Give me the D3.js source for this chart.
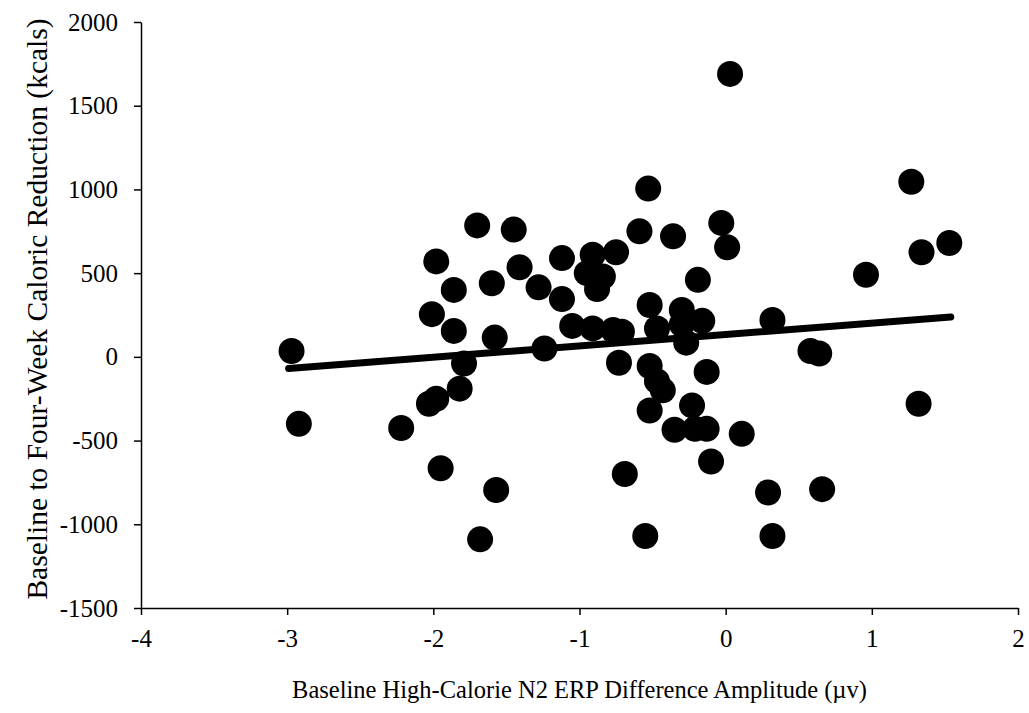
<!DOCTYPE html>
<meta charset="utf-8">
<script src="https://d3js.org/d3.v7.min.js"></script>
<style>
    body { margin: 0; background: white; }
    .axis text { font-family: "Liberation Serif", "Times New Roman", serif; font-size: 25px; fill: black; }
    .axis path, .axis line { stroke: black; stroke-width: 1.5; }
    .title { font-family: "Liberation Serif", "Times New Roman", serif; fill: black; }
</style>
<body>
<div id="chart"></div>
<script>
    // N2 amplitude (x) vs caloric reduction (y)
    var ampValues = [-2.97, -2.92, -2.22, -2.03, -1.98, -1.95, -1.98, -2.01, -1.86, -1.86,
        -1.79, -1.82, -1.68, -1.70, -1.60, -1.58, -1.57, -1.45, -1.41, -1.28,
        -1.24, -1.12, -1.12, -1.05, -0.95, -0.91, -0.84, -0.88, -0.91, -0.77,
        -0.71, -0.75, -0.59, -0.73, -0.53, -0.52, -0.52, -0.47, -0.47, -0.43,
        -0.52, -0.55, -0.69, -0.36, -0.35, -0.30, -0.30, -0.27, -0.23, -0.19,
        -0.16, -0.13, -0.21, -0.13, -0.10, -0.03, 0.01, 0.03, 0.11, 0.29,
        0.32, 0.32, 0.58, 0.64, 0.66, 0.96, 1.27, 1.32, 1.34, 1.53];
    var kcalValues = [35, -400, -425, -280, -250, -665, 570, 255, 400, 155,
        -40, -190, -1090, 785, 440, 115, -795, 760, 535, 415,
        50, 590, 345, 185, 500, 610, 480, 405, 170, 160,
        150, 625, 750, -35, 1005, 310, -55, 170, -145, -200,
        -320, -1070, -700, 720, -435, 280, 195, 85, -290, 460,
        215, -90, -430, -430, -625, 800, 655, 1690, -460, -810,
        220, -1070, 35, 20, -790, 490, 1046, -280, 625, 680];

    // fitted trend line, end points
    var trendX = [-2.99, 1.54];
    var trendY = [-70, 238];

    var xTicks = [-4, -3, -2, -1, 0, 1, 2];
    var yTicks = [-1500, -1000, -500, 0, 500, 1000, 1500, 2000];

    const width = 1029, height = 713;
    const plotLeft = 141, plotRight = 1018, plotTop = 22, plotBottom = 608;

    var svg = d3.select("#chart").append("svg")
        .attr("width", width)
        .attr("height", height);

    var x = d3.scaleLinear().domain([-4, 2]).range([plotLeft, plotRight]);
    var y = d3.scaleLinear().domain([-1500, 2000]).range([plotBottom, plotTop]);

    var plain = d => String(d);

    svg.append("g")
        .attr("class", "axis")
        .attr("transform", "translate(" + plotLeft + ",0)")
        .call(d3.axisLeft(y).tickValues(yTicks).tickFormat(plain)
            .tickSize(7).tickPadding(16).tickSizeOuter(0));

    svg.append("g")
        .attr("class", "axis")
        .attr("transform", "translate(0," + plotBottom + ")")
        .call(d3.axisBottom(x).tickValues(xTicks).tickFormat(plain)
            .tickSize(7).tickPadding(14).tickSizeOuter(0));

    svg.selectAll(".dot")
        .data(ampValues)
        .enter().append("circle")
        .attr("class", "dot")
        .attr("cx", d => x(d))
        .attr("cy", (d, i) => y(kcalValues[i]))
        .attr("r", 13)
        .attr("fill", "black");

    svg.append("line")
        .attr("x1", x(trendX[0])).attr("y1", y(trendY[0]))
        .attr("x2", x(trendX[1])).attr("y2", y(trendY[1]))
        .attr("stroke", "black")
        .attr("stroke-width", 7)
        .attr("stroke-linecap", "round");

    svg.append("text")
        .attr("class", "title")
        .attr("x", (plotLeft + plotRight) / 2)
        .attr("y", 698)
        .attr("text-anchor", "middle")
        .style("font-size", "24.5px")
        .text("Baseline High-Calorie N2 ERP Difference Amplitude (µv)");

    svg.append("text")
        .attr("class", "title")
        .attr("transform", "translate(47,309) rotate(-90)")
        .attr("text-anchor", "middle")
        .style("font-size", "29.5px")
        .text("Baseline to Four-Week Caloric Reduction (kcals)");
</script>
</body>
